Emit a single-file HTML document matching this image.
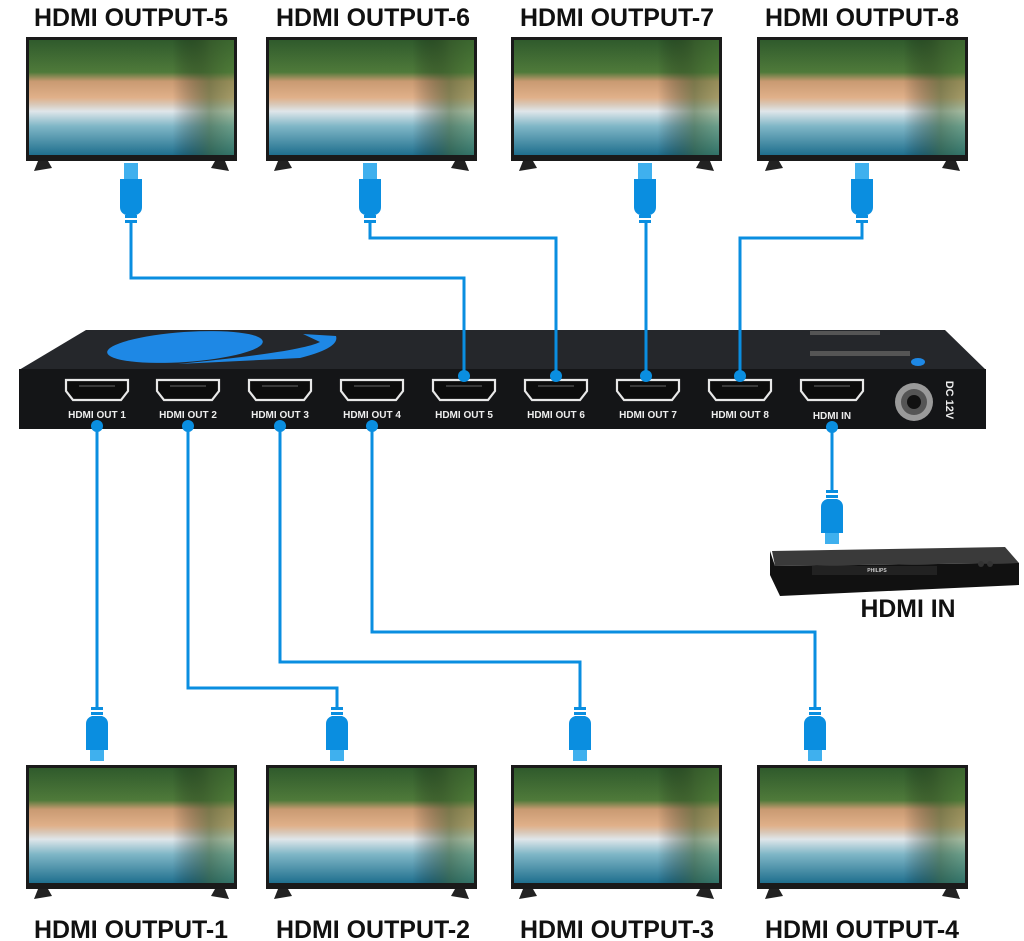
<!DOCTYPE html>
<html><head><meta charset="utf-8"><style>html,body{margin:0;padding:0;background:#fff}svg{display:block}</style></head><body>
<svg width="1024" height="941" viewBox="0 0 1024 941" xmlns="http://www.w3.org/2000/svg" font-family="Liberation Sans, sans-serif">
<defs>
<linearGradient id="scr" x1="0" y1="0" x2="0" y2="1">
<stop offset="0" stop-color="#2f5a2c"/><stop offset="0.28" stop-color="#4f7a3a"/>
<stop offset="0.36" stop-color="#c99a72"/><stop offset="0.5" stop-color="#e0b089"/>
<stop offset="0.56" stop-color="#d9c8b8"/><stop offset="0.62" stop-color="#dfe6ea"/>
<stop offset="0.75" stop-color="#7fb6c6"/><stop offset="1" stop-color="#1f6f8e"/>
</linearGradient>
<linearGradient id="scr2" x1="0" y1="0" x2="1" y2="0">
<stop offset="0.7" stop-color="#000" stop-opacity="0"/><stop offset="0.88" stop-color="#3a5a2a" stop-opacity="0.55"/><stop offset="1" stop-color="#4d7a34" stop-opacity="0.4"/>
</linearGradient>
<g id="tv">
<rect x="0" y="0" width="211" height="124" fill="#1a1a1a"/>
<rect x="3" y="3" width="205" height="115" fill="url(#scr)"/>
<rect x="3" y="3" width="205" height="115" fill="url(#scr2)"/>
<polygon points="12,124 22,124 26,131 8,134" fill="#222"/>
<polygon points="189,124 199,124 203,134 185,131" fill="#222"/>
</g>
<g id="plugU">
<rect x="-7" y="0" width="14" height="16" fill="#3fb0ee"/>
<path d="M-11,16 H11 V44 Q11,50 5,52 H-5 Q-11,50 -11,44 Z" fill="#0a8ee0"/>
<rect x="-6" y="52" width="12" height="3" fill="#0a8ee0"/><rect x="-6" y="57" width="12" height="3" fill="#0a8ee0"/>
</g>
<g id="plugD">
<rect x="-6" y="0" width="12" height="3" fill="#0a8ee0"/><rect x="-6" y="5" width="12" height="3" fill="#0a8ee0"/>
<path d="M-5,9 H5 Q11,11 11,17 V43 H-11 V17 Q-11,11 -5,9 Z" fill="#0a8ee0"/>
<rect x="-7" y="43" width="14" height="11" fill="#3fb0ee"/>
</g>
<g id="port">
<path d="M-31,-12 H31 V-1 L24,8 H-24 L-31,-1 Z" fill="#0c0c0c" stroke="#e8e8e8" stroke-width="2.2"/>
<line x1="-18" y1="-6" x2="18" y2="-6" stroke="#666" stroke-width="1"/>
</g>
</defs>

<g font-weight="bold" font-size="25" fill="#111" text-anchor="middle">
<text x="131" y="26" textLength="194" lengthAdjust="spacingAndGlyphs">HDMI OUTPUT-5</text>
<text x="373" y="26" textLength="194" lengthAdjust="spacingAndGlyphs">HDMI OUTPUT-6</text>
<text x="617" y="26" textLength="194" lengthAdjust="spacingAndGlyphs">HDMI OUTPUT-7</text>
<text x="862" y="26" textLength="194" lengthAdjust="spacingAndGlyphs">HDMI OUTPUT-8</text>
<text x="131" y="938" textLength="194" lengthAdjust="spacingAndGlyphs">HDMI OUTPUT-1</text>
<text x="373" y="938" textLength="194" lengthAdjust="spacingAndGlyphs">HDMI OUTPUT-2</text>
<text x="617" y="938" textLength="194" lengthAdjust="spacingAndGlyphs">HDMI OUTPUT-3</text>
<text x="862" y="938" textLength="194" lengthAdjust="spacingAndGlyphs">HDMI OUTPUT-4</text>
<text x="908" y="617" textLength="95" lengthAdjust="spacingAndGlyphs">HDMI IN</text>
</g>

<use href="#tv" x="26" y="37"/><use href="#tv" x="266" y="37"/><use href="#tv" x="511" y="37"/><use href="#tv" x="757" y="37"/>
<use href="#tv" x="26" y="765"/><use href="#tv" x="266" y="765"/><use href="#tv" x="511" y="765"/><use href="#tv" x="757" y="765"/>

<!-- splitter -->
<polygon points="86,330 945,330 986,370 19,370" fill="#25272b"/>
<rect x="19" y="369" width="967" height="60" fill="#141517"/>
<ellipse cx="185" cy="347" rx="78" ry="15" fill="#1e88e5" transform="rotate(-4 185 347)"/>
<path d="M303,334 L336,336 Q340,348 300,358 L178,364 Q300,352 320,342 Z" fill="#1e88e5"/>
<ellipse cx="918" cy="362" rx="7" ry="4" fill="#1e88e5"/>
<rect x="810" y="351" width="100" height="5" fill="#555"/>
<rect x="810" y="331" width="70" height="4" fill="#555"/>
<g>
<use href="#port" x="97" y="392"/><use href="#port" x="188" y="392"/><use href="#port" x="280" y="392"/><use href="#port" x="372" y="392"/>
<use href="#port" x="464" y="392"/><use href="#port" x="556" y="392"/><use href="#port" x="648" y="392"/><use href="#port" x="740" y="392"/><use href="#port" x="832" y="392"/>
</g>
<g font-weight="bold" font-size="10" fill="#eee" text-anchor="middle">
<text x="97" y="418">HDMI OUT 1</text><text x="188" y="418">HDMI OUT 2</text><text x="280" y="418">HDMI OUT 3</text><text x="372" y="418">HDMI OUT 4</text>
<text x="464" y="418">HDMI OUT 5</text><text x="556" y="418">HDMI OUT 6</text><text x="648" y="418">HDMI OUT 7</text><text x="740" y="418">HDMI OUT 8</text><text x="832" y="419">HDMI IN</text>
<text x="0" y="0" transform="translate(946,400) rotate(90)" font-size="11">DC 12V</text>
</g>
<circle cx="914" cy="402" r="19" fill="#9a9a9a"/><circle cx="914" cy="402" r="13" fill="#555"/><circle cx="914" cy="402" r="7" fill="#111"/>

<g stroke="#0a8ee0" stroke-width="3" fill="none">
<polyline points="131,220 131,278 464,278 464,376"/>
<polyline points="370,220 370,238 556,238 556,376"/>
<polyline points="646,220 646,376"/>
<polyline points="862,220 862,238 740,238 740,376"/>
<polyline points="97,426 97,707"/>
<polyline points="188,426 188,688 337,688 337,707"/>
<polyline points="280,426 280,662 580,662 580,707"/>
<polyline points="372,426 372,632 815,632 815,707"/>
<polyline points="832,426 832,490"/>
</g>

<g fill="#0a8ee0">
<circle cx="464" cy="376" r="6"/><circle cx="556" cy="376" r="6"/><circle cx="646" cy="376" r="6"/><circle cx="740" cy="376" r="6"/>
<circle cx="97" cy="426" r="6"/><circle cx="188" cy="426" r="6"/><circle cx="280" cy="426" r="6"/><circle cx="372" cy="426" r="6"/><circle cx="832" cy="427" r="6"/>
</g>

<use href="#plugU" x="131" y="163"/><use href="#plugU" x="370" y="163"/><use href="#plugU" x="645" y="163"/><use href="#plugU" x="862" y="163"/>
<use href="#plugD" x="97" y="707"/><use href="#plugD" x="337" y="707"/><use href="#plugD" x="580" y="707"/><use href="#plugD" x="815" y="707"/>
<use href="#plugD" x="832" y="490"/>

<!-- DVD player -->
<polygon points="772,551 1005,547 1019,563 775,566" fill="#3a3a3a"/>
<polygon points="770,551 775,566 1019,563 1019,585 780,596 770,575" fill="#111"/>
<rect x="812" y="566" width="125" height="9" fill="#222"/>
<text x="877" y="572" font-size="5" fill="#ccc" text-anchor="middle" font-weight="bold">PHILIPS</text>
<circle cx="981" cy="564" r="3" fill="#333"/><circle cx="990" cy="564" r="3" fill="#333"/>
</svg>
</body></html>
